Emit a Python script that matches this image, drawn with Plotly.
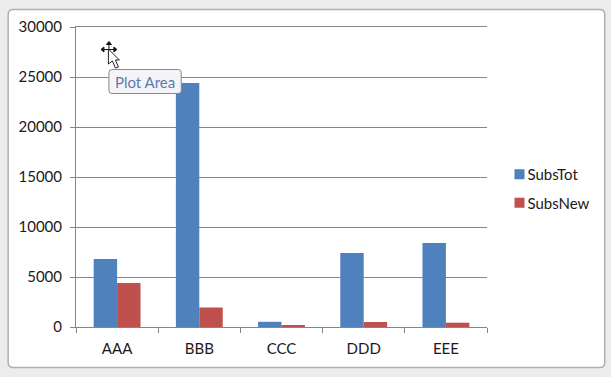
import plotly.graph_objects as go

categories = ["AAA", "BBB", "CCC", "DDD", "EEE"]
subs_tot = [6800, 24400, 520, 7400, 8400]
subs_new = [4400, 1950, 130, 500, 430]
y_ticks = [0, 5000, 10000, 15000, 20000, 25000, 30000]

W, H = 611, 377
L, R, T, B = 75.5, 487.5, 27, 327
FONT = "Lato"
TEXT = "#1a1a1a"
AXIS = "#868686"

def px(x):
    return (x - L) / (R - L)

def py(y):
    return (B - y) / (B - T)

def rrect(x0, y0, x1, y1, r):
    a, b, c, d = px(x0), py(y0), px(x1), py(y1)
    rx, ry = r / (R - L), r / (B - T)
    return (f"M{a+rx},{b} L{c-rx},{b} Q{c},{b} {c},{b-ry} L{c},{d+ry} Q{c},{d} {c-rx},{d} "
            f"L{a+rx},{d} Q{a},{d} {a},{d+ry} L{a},{b-ry} Q{a},{b} {a+rx},{b} Z")

def poly(points, close=True):
    s = "M" + " L".join(f"{px(x)},{py(y)}" for x, y in points)
    return s + (" Z" if close else "")

fig = go.Figure()
fig.add_bar(name="SubsTot", x=categories, y=subs_tot, legendgroup="a", marker=dict(color="#4F81BD", line_width=0))
fig.add_bar(name="SubsNew", x=categories, y=subs_new, legendgroup="b", marker=dict(color="#C0504D", line_width=0))

cx, cy = 108.5, 49.5
move_cursor = [
    poly([(cx - 7, cy), (cx + 7, cy)], False),
    poly([(cx, cy - 7), (cx, cy + 7)], False),
    poly([(cx - 8, cy), (cx - 5, cy - 2.5), (cx - 5, cy + 2.5)]),
    poly([(cx + 8, cy), (cx + 5, cy - 2.5), (cx + 5, cy + 2.5)]),
    poly([(cx, cy - 8), (cx - 2.5, cy - 5), (cx + 2.5, cy - 5)]),
]

shapes = [
    dict(type="path", path=rrect(7.5, 9.5, 605.5, 367.5, 5), xref="paper", yref="paper",
         fillcolor="white", line=dict(color="#b0b0b0", width=1.5), layer="below"),
    dict(type="path", path=rrect(108.5, 69.5, 181, 93.5, 3), xref="paper", yref="paper",
         fillcolor="#f4f4f8", line=dict(color="#8a8a8a", width=1), layer="above"),
]
shapes += [dict(type="path", xref="paper", yref="paper", layer="above", fillcolor="#111111",
                line=dict(color="#111111", width=1), path=p) for p in move_cursor]
shapes.append(dict(type="path", xref="paper", yref="paper", layer="above", fillcolor="white",
                   line=dict(color="#222222", width=1),
                   path=poly([(108, 49), (108, 64), (112, 61), (115, 68), (118, 67), (115, 60), (119, 60)])))
annotations = [
    dict(text="Plot Area", xref="paper", yref="paper", x=px(113), y=py(81.5), xanchor="left",
         yanchor="middle", showarrow=False, font=dict(family=FONT, size=15, color="#5a7da8")),
]

fig.update_layout(
    width=W, height=H, autosize=False,
    margin=dict(l=L, r=W - R, t=T, b=H - B, pad=0, autoexpand=False),
    paper_bgcolor="#ececec", plot_bgcolor="rgba(0,0,0,0)",
    barmode="group", bargap=0.43, bargroupgap=0,
    font=dict(family=FONT, size=15, color=TEXT),
    xaxis=dict(showline=True, linecolor=AXIS, linewidth=1, ticks="outside", ticklen=5, tickcolor=AXIS,
               tickson="boundaries", showgrid=False, ticklabelstandoff=8, mirror=True),
    yaxis=dict(range=[0, 30000], tickvals=y_ticks, tickformat="d", showline=True, linecolor=AXIS, linewidth=1,
               ticks="outside", ticklen=5, tickcolor=AXIS, gridcolor=AXIS, gridwidth=1,
               zeroline=False, ticklabelstandoff=5),
    legend=dict(x=px(488), y=py(158), xanchor="left", yanchor="top", bgcolor="rgba(0,0,0,0)",
                traceorder="grouped", tracegroupgap=6, font=dict(family=FONT, size=15, color=TEXT)),
    shapes=shapes, annotations=annotations,
)
post = """
document.body.style.margin='0';document.body.style.overflow='hidden';
document.querySelectorAll('.legendpoints path').forEach(function(p){p.setAttribute('d','M17,5H7V-5H17Z');});
"""
fig.write_html("out.html", post_script=post, config=dict(displayModeBar=False))
